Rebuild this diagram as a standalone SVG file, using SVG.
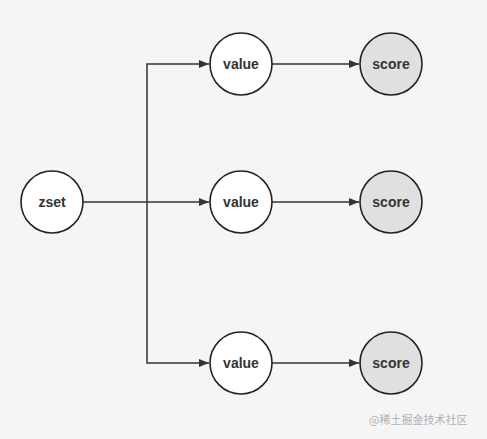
<svg xmlns="http://www.w3.org/2000/svg" width="487" height="439" viewBox="0 0 487 439">
<style>
.n{stroke:#222;stroke-width:1.6}
.v{fill:#fff}
.s{fill:#e0e0e0}
.t{font-family:"Liberation Sans",Arial,sans-serif;font-size:14px;font-weight:bold;fill:#333;text-anchor:middle;dominant-baseline:central}
.c{fill:none;stroke:#333;stroke-width:1.5}
.wm{font-family:"Noto Sans CJK SC",sans-serif;font-size:11px;fill:#b0b0b0}
</style>
<defs>
<marker id="a" markerWidth="10" markerHeight="8" refX="10" refY="4" orient="auto" markerUnits="userSpaceOnUse">
<path d="M0,0 L10,4 L0,8 Z" fill="#333"/>
</marker>
</defs>
<rect width="487" height="439" fill="#f5f5f5"/>
<g id="connectors">
<path class="c" d="M83,202 L209,202" marker-end="url(#a)"/>
<path class="c" d="M147,202 L147,64 L209,64" marker-end="url(#a)"/>
<path class="c" d="M147,202 L147,363 L209,363" marker-end="url(#a)"/>
<path class="c" d="M272,64 L359,64" marker-end="url(#a)"/>
<path class="c" d="M272,202 L359,202" marker-end="url(#a)"/>
<path class="c" d="M272,363 L359,363" marker-end="url(#a)"/>
</g>
<g id="zset"><circle class="n v" cx="52" cy="202" r="31"/><text class="t" x="52" y="202">zset</text></g>
<g id="value1"><circle class="n v" cx="241" cy="64" r="31"/><text class="t" x="241" y="64">value</text></g>
<g id="value2"><circle class="n v" cx="241" cy="202" r="31"/><text class="t" x="241" y="202">value</text></g>
<g id="value3"><circle class="n v" cx="241" cy="363" r="31"/><text class="t" x="241" y="363">value</text></g>
<g id="score1"><circle class="n s" cx="391" cy="64" r="31"/><text class="t" x="391" y="64">score</text></g>
<g id="score2"><circle class="n s" cx="391" cy="202" r="31"/><text class="t" x="391" y="202">score</text></g>
<g id="score3"><circle class="n s" cx="391" cy="363" r="31"/><text class="t" x="391" y="363">score</text></g>
<text class="wm" x="369" y="424">@稀土掘金技术社区</text>
</svg>
